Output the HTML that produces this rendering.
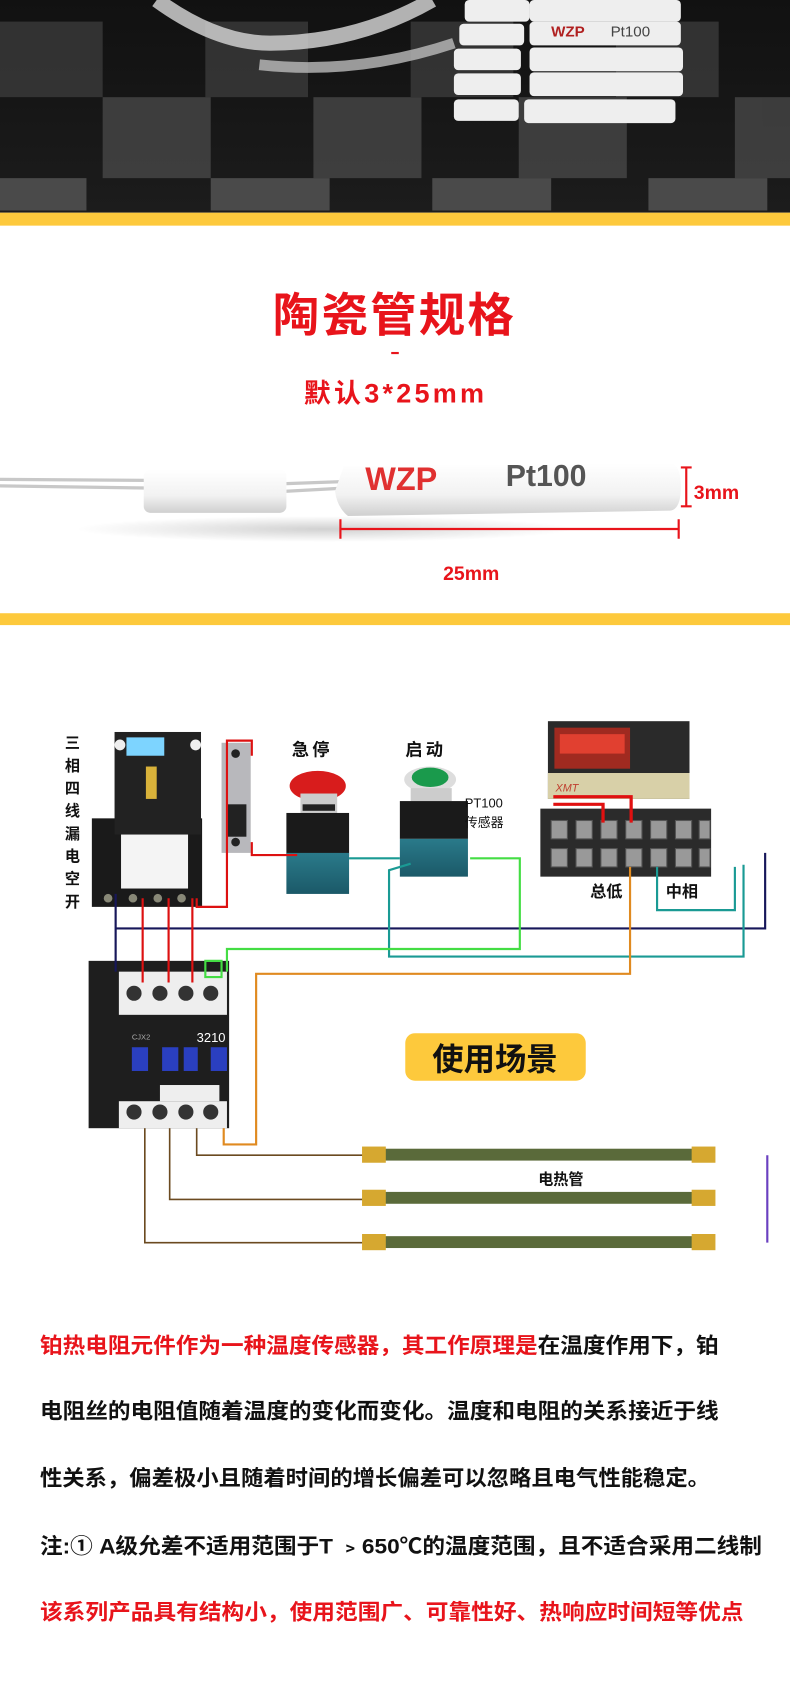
<!DOCTYPE html>
<html><head><meta charset="utf-8">
<style>
html,body{margin:0;padding:0;background:#fff;}
svg{display:block;}
text{font-family:"Liberation Sans","Noto Sans CJK SC",sans-serif;}
</style></head>
<body>
<svg width="790" height="1695" viewBox="0 0 731 1570" preserveAspectRatio="none" xmlns="http://www.w3.org/2000/svg">
<defs>
<linearGradient id="bg" x1="0" y1="0" x2="0" y2="1"><stop offset="0" stop-color="#111"/><stop offset="1" stop-color="#1c1c1c"/></linearGradient>
<linearGradient id="cer" x1="0" y1="0" x2="0" y2="1"><stop offset="0" stop-color="#fff"/><stop offset=".6" stop-color="#f2f2f2"/><stop offset="1" stop-color="#cfcfcf"/></linearGradient>
<linearGradient id="teal" x1="0" y1="0" x2="0" y2="1"><stop offset="0" stop-color="#2a7a8a"/><stop offset="1" stop-color="#1b5968"/></linearGradient>
<radialGradient id="shadow"><stop offset="0" stop-color="#000" stop-opacity=".18"/><stop offset="1" stop-color="#000" stop-opacity="0"/></radialGradient>
</defs>
<rect x="0" y="0" width="731" height="197" fill="url(#bg)"/>
<g opacity=".75">
<rect x="0" y="20" width="95" height="70" fill="#3d3d3d"/>
<rect x="190" y="20" width="95" height="70" fill="#3d3d3d"/>
<rect x="95" y="90" width="100" height="75" fill="#4a4a4a"/>
<rect x="290" y="90" width="100" height="75" fill="#4a4a4a"/>
<rect x="480" y="90" width="100" height="75" fill="#4a4a4a"/>
<rect x="680" y="90" width="51" height="75" fill="#4a4a4a"/>
<rect x="0" y="165" width="80" height="30" fill="#5a5a5a"/>
<rect x="195" y="165" width="110" height="30" fill="#5a5a5a"/>
<rect x="400" y="165" width="110" height="30" fill="#5a5a5a"/>
<rect x="600" y="165" width="110" height="30" fill="#5a5a5a"/>
<rect x="380" y="20" width="95" height="70" fill="#3d3d3d"/>
<rect x="570" y="20" width="95" height="70" fill="#3d3d3d"/>
</g>
<path d="M145 0 Q200 40 250 40 Q330 40 400 0" stroke="#cfcfcf" stroke-width="14" fill="none" opacity=".85"/>
<path d="M240 60 Q330 70 420 40" stroke="#bbb" stroke-width="10" fill="none" opacity=".8"/>
<g fill="#eee">
<rect x="430" y="0" width="60" height="20" rx="4"/><rect x="490" y="0" width="140" height="20" rx="4"/>
<rect x="425" y="22" width="60" height="20" rx="4"/><rect x="490" y="20" width="140" height="22" rx="4"/>
<rect x="420" y="45" width="62" height="20" rx="4"/><rect x="490" y="44" width="142" height="22" rx="4"/>
<rect x="420" y="68" width="62" height="20" rx="4"/><rect x="490" y="67" width="142" height="22" rx="4"/>
<rect x="420" y="92" width="60" height="20" rx="4"/><rect x="485" y="92" width="140" height="22" rx="4"/>
</g>
<text x="510" y="34" font-size="14" fill="#b02020" font-family="Liberation Serif,serif" font-weight="bold">WZP</text>
<text x="565" y="34" font-size="14" fill="#444" font-family="Liberation Serif,serif">Pt100</text>
<rect x="0" y="197" width="731" height="12" fill="#fdc93c"/>
<text x="365" y="307" font-size="43" font-weight="bold" fill="#e8141b" text-anchor="middle" letter-spacing="2">陶瓷管规格</text>
<rect x="362" y="326" width="7" height="2" fill="#e8141b"/>
<text x="366" y="373" font-size="25" font-weight="bold" fill="#e8141b" text-anchor="middle" letter-spacing="3">默认3*25mm</text>
<ellipse cx="300" cy="490" rx="230" ry="12" fill="url(#shadow)"/>
<path d="M0 444 L135 445 M0 450 L135 452 M265 448 L320 446 M265 455 L320 452" stroke="#c8c8c8" stroke-width="3"/>
<rect x="133" y="435" width="132" height="40" rx="6" fill="url(#cer)"/>
<path d="M318 432 L620 429 Q630 430 630 451 Q630 472 620 473 L322 478 Q312 470 310 455 Z" fill="url(#cer)"/>
<text x="338" y="454" font-size="30" font-weight="bold" fill="#e03030" font-family="Liberation Serif,serif">WZP</text>
<text x="468" y="450" font-size="28" fill="#555" font-family="Liberation Serif,serif" font-weight="bold">Pt100</text>
<path d="M630 433 H640 M635 433 V469 M630 469 H640" stroke="#e8141b" stroke-width="2" fill="none"/>
<text x="642" y="462" font-size="18" font-weight="bold" fill="#e8141b">3mm</text>
<path d="M315 490 H628 M315 481 V499 M628 481 V499" stroke="#e8141b" stroke-width="2"/>
<text x="436" y="537" font-size="18" font-weight="bold" fill="#e8141b" text-anchor="middle">25mm</text>
<rect x="0" y="568" width="731" height="11" fill="#fdc93c"/>
<g font-size="14" font-weight="bold" fill="#111" text-anchor="middle">
<text x="67" y="693">三</text><text x="67" y="714">相</text><text x="67" y="735">四</text><text x="67" y="756">线</text><text x="67" y="777">漏</text><text x="67" y="798">电</text><text x="67" y="819">空</text><text x="67" y="840">开</text>
</g>
<text x="90" y="771" font-size="15" fill="#111">N</text>
<text x="270" y="700" font-size="16" font-weight="bold" fill="#111" letter-spacing="3">急停</text>
<text x="375" y="700" font-size="16" font-weight="bold" fill="#111" letter-spacing="3">启动</text>
<rect x="85" y="758" width="102" height="82" fill="#1a1a1a"/>
<rect x="106" y="678" width="80" height="95" fill="#222"/>
<rect x="117" y="683" width="35" height="17" fill="#7dd4ff"/>
<circle cx="111" cy="690" r="5" fill="#eee"/><circle cx="181" cy="690" r="5" fill="#eee"/>
<rect x="135" y="710" width="10" height="30" fill="#d9b23a"/>
<rect x="112" y="773" width="62" height="50" fill="#f4f4f4"/>
<g fill="#887"><circle cx="100" cy="832" r="4"/><circle cx="123" cy="832" r="4"/><circle cx="146" cy="832" r="4"/><circle cx="168" cy="832" r="4"/></g>
<rect x="205" y="688" width="27" height="102" fill="#b8b8bc"/>
<rect x="210" y="745" width="18" height="30" fill="#222"/>
<circle cx="218" cy="698" r="4" fill="#222"/><circle cx="218" cy="780" r="4" fill="#222"/>
<ellipse cx="294" cy="728" rx="26" ry="14" fill="#d81c1c"/>
<rect x="278" y="735" width="34" height="18" fill="#ccc"/>
<rect x="280" y="745" width="30" height="6" fill="#222"/>
<rect x="265" y="753" width="58" height="40" fill="#1a1a1a"/>
<rect x="265" y="790" width="58" height="38" fill="url(#teal)"/>
<ellipse cx="398" cy="722" rx="24" ry="12" fill="#ddd"/>
<ellipse cx="398" cy="720" rx="17" ry="9" fill="#1a9a4c"/>
<rect x="380" y="730" width="38" height="12" fill="#ccc"/>
<rect x="370" y="742" width="63" height="35" fill="#1a1a1a"/>
<rect x="370" y="777" width="63" height="35" fill="url(#teal)"/>
<text x="430" y="748" font-size="12" fill="#111">PT100</text>
<text x="430" y="766" font-size="12" fill="#111">传感器</text>
<rect x="507" y="668" width="131" height="72" fill="#2a2a2a"/>
<rect x="513" y="674" width="70" height="38" fill="#a02a20"/>
<rect x="518" y="680" width="60" height="18" fill="#e14030"/>
<rect x="507" y="716" width="131" height="24" fill="#d8d0a8"/>
<text x="514" y="733" font-size="10" fill="#c04030" font-style="italic">XMT</text>
<rect x="500" y="749" width="158" height="63" fill="#2b2b2b"/>
<g fill="#999" stroke="#555">
<rect x="510" y="760" width="15" height="17"/><rect x="533" y="760" width="15" height="17"/><rect x="556" y="760" width="15" height="17"/><rect x="579" y="760" width="15" height="17"/><rect x="602" y="760" width="15" height="17"/><rect x="625" y="760" width="15" height="17"/><rect x="647" y="760" width="10" height="17"/>
<rect x="510" y="786" width="15" height="17"/><rect x="533" y="786" width="15" height="17"/><rect x="556" y="786" width="15" height="17"/><rect x="579" y="786" width="15" height="17"/><rect x="602" y="786" width="15" height="17"/><rect x="625" y="786" width="15" height="17"/><rect x="647" y="786" width="10" height="17"/>
</g>
<text x="546" y="831" font-size="15" font-weight="bold" fill="#111">总低</text>
<text x="616" y="831" font-size="15" font-weight="bold" fill="#111">中相</text>
<rect x="82" y="890" width="130" height="155" fill="#1e1e1e"/>
<rect x="110" y="900" width="100" height="40" fill="#eee"/>
<g fill="#333"><circle cx="124" cy="920" r="7"/><circle cx="148" cy="920" r="7"/><circle cx="172" cy="920" r="7"/><circle cx="195" cy="920" r="7"/></g>
<text x="182" y="965" font-size="12" fill="#fff">3210</text>
<text x="122" y="963" font-size="7" fill="#aaa">CJX2</text>
<g fill="#2a3fc0"><rect x="122" y="970" width="15" height="22"/><rect x="150" y="970" width="15" height="22"/><rect x="170" y="970" width="13" height="22"/><rect x="195" y="970" width="15" height="22"/></g>
<rect x="148" y="1005" width="55" height="15" fill="#eee"/>
<rect x="110" y="1020" width="100" height="25" fill="#eee"/>
<g fill="#333"><circle cx="124" cy="1030" r="7"/><circle cx="148" cy="1030" r="7"/><circle cx="172" cy="1030" r="7"/><circle cx="195" cy="1030" r="7"/></g>
<g fill="none" stroke-width="2">
<path d="M107 828 V860 H708 V790 M107 860 V900" stroke="#17175a"/>
<path d="M132 832 V910 M156 832 V910 M178 832 V910" stroke="#d11"/>
<path d="M182 832 V840 H210 V686 H233 V700" stroke="#d11"/>
<path d="M233 780 V792 H275" stroke="#d11"/>
<path d="M323 795 H370 M380 800 L360 806 V886 H688 V801" stroke="#1a9a94"/>
<path d="M608 803 V843 H680 V803" stroke="#1a9a94"/>
<path d="M435 795 H481 V879 H210 V900 M190 890 H205 V905 H190 Z" stroke="#44dd44"/>
<path d="M583 803 V902 H237 V1060 H207 V1045" stroke="#e08a20"/>
<path d="M512 738 H584 V762 M512 745 H558 V762" stroke="#e01010" stroke-width="3"/>
<path d="M134 1045 V1151 H340 M157 1045 V1111 H340 M182 1045 V1070 H340" stroke="#6b4a20" stroke-width="1.5"/>
<path d="M710 1070 V1151" stroke="#6a40c0" stroke-width="2"/>
</g>
<rect x="340" y="1064" width="320" height="11" fill="#5a6a3a"/>
<rect x="340" y="1104" width="320" height="11" fill="#5a6a3a"/>
<rect x="340" y="1145" width="320" height="11" fill="#5a6a3a"/>
<g fill="#d6a830"><rect x="335" y="1062" width="22" height="15"/><rect x="640" y="1062" width="22" height="15"/><rect x="335" y="1102" width="22" height="15"/><rect x="640" y="1102" width="22" height="15"/><rect x="335" y="1143" width="22" height="15"/><rect x="640" y="1143" width="22" height="15"/></g>
<rect x="490" y="1080" width="80" height="20" fill="#fff"/>
<text x="498" y="1097" font-size="14" font-weight="bold" fill="#111">电热管</text>
<rect x="375" y="957" width="167" height="44" rx="9" fill="#fdc93c"/>
<text x="458" y="991" font-size="29" font-weight="bold" fill="#111" text-anchor="middle">使用场景</text>
<g font-size="20" font-weight="bold">
<text x="37" y="1253" textLength="628" lengthAdjust="spacingAndGlyphs"><tspan fill="#e8141b">铂热电阻元件作为一种温度传感器，其工作原理是</tspan><tspan fill="#111">在温度作用下，铂</tspan></text>
<text x="37" y="1314" fill="#111" textLength="628" lengthAdjust="spacingAndGlyphs">电阻丝的电阻值随着温度的变化而变化。温度和电阻的关系接近于线</text>
<text x="37" y="1376" fill="#111" textLength="620" lengthAdjust="spacingAndGlyphs">性关系，偏差极小且随着时间的增长偏差可以忽略且电气性能稳定。</text>
<text x="37" y="1439" fill="#111" textLength="668" lengthAdjust="spacingAndGlyphs">注:① A级允差不适用范围于T ﹥650℃的温度范围，且不适合采用二线制</text>
<text x="37" y="1500" fill="#e8141b" textLength="651" lengthAdjust="spacingAndGlyphs">该系列产品具有结构小，使用范围广、可靠性好、热响应时间短等优点</text>
</g>
</svg>
</body></html>
